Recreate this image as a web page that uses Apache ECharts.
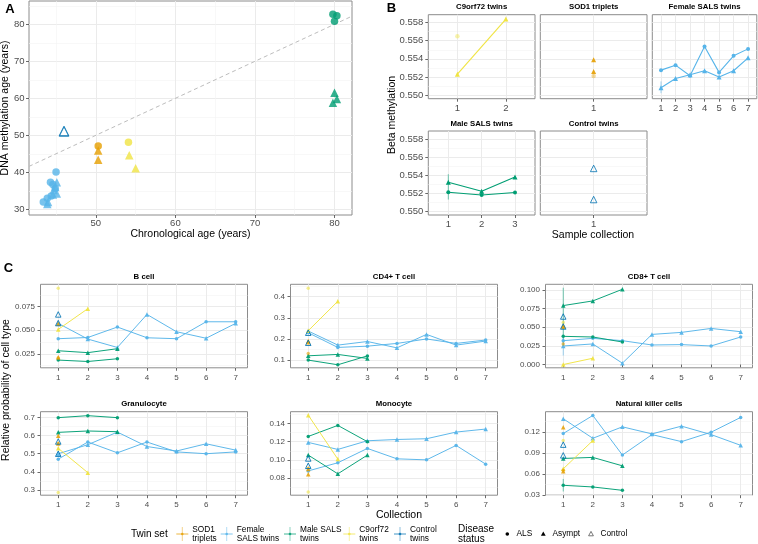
<!DOCTYPE html>
<html><head><meta charset="utf-8">
<script src="https://cdn.jsdelivr.net/npm/echarts@6/dist/echarts.min.js"></script>
<style>html,body{margin:0;padding:0;background:#fff}#c{width:758px;height:544px}</style>
</head><body><div id="c"></div>
<script>
// ================= DATA =================
// Panel A: [chronological age, DNA methylation age]
const A_femaleALS    = [[45.0,40.1],[44.3,37.3],[44.6,36.7],[44.9,35.6],[44.4,33.6],[43.9,33.0],[43.4,32.0]];
const A_femaleAsympt = [[45.1,37.3],[44.7,35.2],[45.1,34.3],[44.6,34.0],[44.0,32.0],[43.9,31.4],[44.9,36.0]];
const A_control      = [[46.0,51.2],[46.0,51.0]];
const A_sod1ALS      = [[50.3,47.1]];
const A_sod1Asympt   = [[50.3,45.9],[50.3,43.4]];
const A_c9ALS        = [[54.1,48.1]];
const A_c9Asympt     = [[54.2,44.6],[55.0,41.1]];
const A_maleALS      = [[79.8,82.7],[80.3,82.3],[80.0,80.8]];
const A_maleAsympt   = [[80.0,61.5],[80.3,59.8],[79.8,58.8]];
const A_identity     = [41.6, 82.2];
const A_xTicks = [50,60,70,80];
const A_yTicks = [30,40,50,60,70,80];

// Panel B: beta methylation by sample collection
const B_facets = ['C9orf72 twins','SOD1 triplets','Female SALS twins','Male SALS twins','Control twins'];
const B_yTicks = [0.550,0.552,0.554,0.556,0.558];
const B_c9ALS = [0.5565];
const B_c9Asympt = [0.5523,0.5584];
const B_sod1ALS = [0.5521];
const B_sod1Asympt = [0.5539,0.5526];
const B_femaleALS = [0.55275,0.5533,0.55213,0.55536,0.5525,0.55433,0.5551];
const B_femaleAsympt = [0.5508,0.55183,0.55224,0.55268,0.5520,0.55268,0.55411];
const B_maleALS = [0.55211,0.55181,0.55207];
const B_maleAsympt = [0.55322,0.55222,0.55378];
const B_control = [0.55474,0.5513];
// error bars: [facet, collection, low, high]
const B_errFemale = [[2,1,0.5502,0.5515]];
const B_errMale = [[3,1,0.5513,0.5541]];

// Panel C: relative probability of cell type (one row per cell type)
const C_cellTypes = ['B cell','CD4+ T cell','CD8+ T cell','Granulocyte','Monocyte','Natural killer cells'];
const C_collections = [1,2,3,4,5,6,7];
const C_yTicks = [[0.025,0.05,0.075],[0.1,0.2,0.3,0.4],[0,0.025,0.05,0.075,0.1],[0.3,0.4,0.5,0.6,0.7],[0.08,0.10,0.12,0.14],[0.03,0.06,0.09,0.12]];
const C_femaleA = [
  [0.0573,0.0406,0.0317,0.0668,0.0484,0.0415,0.0573],
  [0.2375,0.171,0.188,0.158,0.2216,0.171,0.19],
  [0.0249,0.0276,0.0018,0.0404,0.0431,0.0484,0.044],
  [0.50,0.55,0.62,0.54,0.515,0.555,0.52],
  [0.1192,0.1115,0.121,0.1224,0.1232,0.1305,0.1338],
  [0.1393,0.1113,0.1277,0.1176,0.1287,0.1166,0.1012]];
const C_femaleB = [
  [0.041,0.0423,0.0534,0.042,0.041,0.059,0.059],
  [0.2295,0.16,0.166,0.179,0.2,0.179,0.195],
  [0.032,0.0351,0.032,0.0262,0.0267,0.0249,0.0369],
  [0.47,0.565,0.505,0.565,0.51,0.50,0.51],
  [0.088,0.0969,0.1126,0.1012,0.1001,0.1159,0.0954],
  [0.1181,0.144,0.0873,0.1166,0.1065,0.12,0.1412]];
const C_maleAsympt = [[0.0282,0.0262,0.0304],[0.1205,0.1269,0.108],[0.0791,0.0853,0.1009],[0.6185,0.626,0.622],[0.1053,0.0848,0.1053],[0.0824,0.0839,0.0718]];
const C_maleALS    = [[0.0183,0.0168,0.0197],[0.10,0.078,0.12],[0.0378,0.0369,0.0302],[0.70,0.711,0.70],[0.1257,0.1378,0.120],[0.0439,0.0415,0.0367]];
const C_c9Asympt   = [[0.0509,0.0729],[0.239,0.378],[0.0,0.0084],[0.53,0.395],[0.149,0.1009],[0.0675,0.108]];
const C_c9ALS      = [[0.0945],[0.4397],[0.0564],[0.285],[0.065],[0.108]];
const C_sod1Asympt = [[0.0214,0.057],[0.19,0.184],[0.0507,0.052],[0.60,0.556],[0.0844,0.09],[0.1272,0.0641]];
const C_sod1ALS    = [[0.0205],[0.1316],[0.0275],[0.556],[0.091],[0.0655]];
const C_control    = [[0.0668,0.0576],[0.2295,0.182],[0.0644,0.051],[0.568,0.50],[0.1016,0.0936],[0.1022,0.0868]];
// error bars: [cell type, collection, low, high]
const C_errMale   = [[2,1,0.024,0.103],[5,1,0.035,0.053]];
const C_errFemale = [[2,1,0.012,0.040]];

// Legend
const twinSetLabels = ['SOD1\ntriplets','Female\nSALS twins','Male SALS\ntwins','C9orf72\ntwins','Control\ntwins'];
const statusLabels = ['ALS','Asympt','Control'];

// ================= STYLE / LAYOUT =================
const COL = {sod1:'#E69F00', female:'#56B4E9', male:'#009E73', c9:'#F0E442', control:'#0072B2'};
const FONT = '"Liberation Sans", Arial, Helvetica, sans-serif';
const option = {animation:false, backgroundColor:'#ffffff', grid:[], xAxis:[], yAxis:[], series:[], graphic:[]};

function panel(rect, xr, yr, xt, yt, xm, ym, fs, xfmt, yfmt, showY, xMargin, yMargin) {
  const gi = option.grid.length;
  option.grid.push({left:rect[0], top:rect[1], width:rect[2], height:rect[3], show:true,
    borderColor:'#8c8c8c', borderWidth:1, backgroundColor:'rgba(0,0,0,0)'});
  const minorLine = {color:'#F4F4F4', width:0.6};
  option.xAxis.push({type:'value', gridIndex:gi, min:xr[0], max:xr[1], position:'top',
    axisLine:{show:false}, axisLabel:{show:false}, axisTick:{show:false, customValues:xm},
    splitLine:{show:xm.length>0, lineStyle:minorLine}});
  option.yAxis.push({type:'value', gridIndex:gi, min:yr[0], max:yr[1], position:'right',
    axisLine:{show:false}, axisLabel:{show:false}, axisTick:{show:false, customValues:ym},
    splitLine:{show:ym.length>0, lineStyle:minorLine}});
  const xi = option.xAxis.length, yi = option.yAxis.length;
  option.xAxis.push({type:'value', gridIndex:gi, min:xr[0], max:xr[1], position:'bottom',
    axisLine:{show:false},
    axisTick:{show:true, customValues:xt, length:3, lineStyle:{color:'#444', width:0.8}},
    axisLabel:{show:true, customValues:xt, formatter:xfmt, fontSize:fs, color:'#4D4D4D', fontFamily:FONT, margin:xMargin},
    splitLine:{show:true, lineStyle:{color:'#EBEBEB', width:1}}});
  option.yAxis.push({type:'value', gridIndex:gi, min:yr[0], max:yr[1], position:'left',
    axisLine:{show:false},
    axisTick:{show:showY, customValues:yt, length:3, lineStyle:{color:'#444', width:0.8}},
    axisLabel:{show:showY, customValues:yt, formatter:yfmt, fontSize:fs, color:'#4D4D4D', fontFamily:FONT, margin:yMargin},
    splitLine:{show:true, lineStyle:{color:'#EBEBEB', width:1}}});
  return {x:xi, y:yi};
}
function scatter(ax, data, color, symbol, size, opacity) {
  const open = symbol === 'openTriangle';
  option.series.push({type:'scatter', xAxisIndex:ax.x, yAxisIndex:ax.y, data, symbol: open ? 'triangle' : symbol, symbolSize:size, silent:true, z:4,
    itemStyle: open ? {color:'rgba(255,255,255,0)', borderColor:color, borderWidth:1, opacity:opacity} : {color:color, opacity:opacity, borderWidth:0}});
}
function line(ax, xs, ys, color, symbol, size, lw, opacity) {
  option.series.push({type:'line', xAxisIndex:ax.x, yAxisIndex:ax.y, data: ys.map((v,i)=>[xs[i], v]),
    symbol, symbolSize:size, showSymbol:true, silent:true, z:3,
    lineStyle:{color, width:lw, opacity:opacity}, itemStyle:{color, opacity:opacity, borderWidth:0}});
}
function errbar(ax, x, lo, hi, color) {
  option.series.push({type:'line', xAxisIndex:ax.x, yAxisIndex:ax.y, data:[[x,lo],[x,hi]], symbol:'none', silent:true, z:2,
    lineStyle:{color, width:0.8, opacity:0.7}});
}
function txt(x, y, text, size, o) {
  o = o || {};
  option.graphic.push({type:'text', x, y, rotation:o.rot||0, silent:true, z:100,
    style:{text, x:0, y:0, fill:o.color||'#000', font:(o.bold?'bold ':'')+size+'px '+FONT,
      textAlign:o.align||'center', textVerticalAlign:'middle', align:o.align||'center', verticalAlign:'middle', lineHeight:o.lh||size*1.1}});
}

// ================= PANEL A =================
const axA = panel([29,1,323,214],[41.6,82.2],[28.46,86.3],A_xTicks,A_yTicks,[45,55,65,75],[35,45,55,65,75,85],9.5,
  v=>String(v), v=>String(v), true, 3.5, 4.5);
option.series.push({type:'line', xAxisIndex:axA.x, yAxisIndex:axA.y, data:[[A_identity[0],A_identity[0]],[A_identity[1],A_identity[1]]],
  symbol:'none', silent:true, z:2, lineStyle:{color:'#BDBDBD', width:1, type:[4,3]}});
scatter(axA, A_femaleALS, COL.female, 'circle', 7.5, 0.8);
scatter(axA, A_femaleAsympt, COL.female, 'triangle', 8.5, 0.8);
scatter(axA, A_control, COL.control, 'openTriangle', 9.5, 0.75);
scatter(axA, A_sod1ALS, COL.sod1, 'circle', 7.5, 0.8);
scatter(axA, A_sod1Asympt, COL.sod1, 'triangle', 8.5, 0.8);
scatter(axA, A_c9ALS, COL.c9, 'circle', 7.5, 0.8);
scatter(axA, A_c9Asympt, COL.c9, 'triangle', 8.5, 0.8);
scatter(axA, A_maleALS, COL.male, 'circle', 7.5, 0.8);
scatter(axA, A_maleAsympt, COL.male, 'triangle', 8.5, 0.8);
txt(10, 9, 'A', 13, {bold:true});
txt(190.5, 234.5, 'Chronological age (years)', 10.5);
txt(5.5, 108, 'DNA methylation age (years)', 10.5, {rot:Math.PI/2});

// ================= PANEL B =================
const B_yRange = [0.54959, 0.55888];
const B_yMinor = [0.551,0.553,0.555,0.557];
const B_rects = [[428.3,14.7,106.7,84],[540.3,14.7,106.7,84],[652.3,14.7,104.5,84],[428.3,131,106.7,84],[540.3,131,106.7,84]];
const B_xRanges = [[0.4,2.6],[0.4,1.6],[0.4,7.6],[0.4,3.6],[0.4,1.6]];
const B_nColl = [2,1,7,3,1];
const B_showY = [true,false,false,true,false];
const axB = B_facets.map((f,i)=>{
  const xt = C_collections.slice(0, B_nColl[i]);
  const ax = panel(B_rects[i], B_xRanges[i], B_yRange, xt, B_yTicks, [], B_yMinor, 9.5,
    v=>String(v), v=>v.toFixed(3), B_showY[i], 4.5, 5);
  txt(B_rects[i][0]+B_rects[i][2]/2, B_rects[i][1]-7.5, f, 7.8, {bold:true});
  return ax;
});
// C9orf72
scatter(axB[0], B_c9ALS.map(v=>[1,v]), COL.c9, 'circle', 4.5, 0.45);
line(axB[0], C_collections, B_c9Asympt, COL.c9, 'triangle', 5, 1.1, 1);
// SOD1
scatter(axB[1], B_sod1ALS.map(v=>[1,v]), COL.sod1, 'circle', 4.5, 0.4);
scatter(axB[1], B_sod1Asympt.map(v=>[1,v]), COL.sod1, 'triangle', 5, 0.9);
// Female SALS
B_errFemale.forEach(e=>errbar(axB[e[0]], e[1], e[2], e[3], COL.female));
line(axB[2], C_collections, B_femaleALS, COL.female, 'circle', 4, 1.1, 1);
line(axB[2], C_collections, B_femaleAsympt, COL.female, 'triangle', 5, 1.1, 1);
// Male SALS
B_errMale.forEach(e=>errbar(axB[e[0]], e[1], e[2], e[3], COL.male));
line(axB[3], C_collections, B_maleALS, COL.male, 'circle', 4, 1.1, 1);
line(axB[3], C_collections, B_maleAsympt, COL.male, 'triangle', 5, 1.1, 1);
// Control
scatter(axB[4], B_control.map(v=>[1,v]), COL.control, 'openTriangle', 6.5, 0.8);
txt(391.5, 8.5, 'B', 13, {bold:true});
txt(392, 115, 'Beta methylation', 10.5, {rot:Math.PI/2});
txt(593, 235, 'Sample collection', 10.5);

// ================= PANEL C =================
const C_yRanges = [[0.0101,0.0988],[0.0637,0.4584],[-0.0044,0.1076],[0.270,0.733],[0.0614,0.1528],[0.0297,0.1494]];
const C_dec = [3,1,3,1,2,2];
const C_lefts = [40.5,290.5,545.5];
const C_tops = [284.3,411.7];
const axC = C_cellTypes.map((ct,i)=>{
  const r = [C_lefts[i%3], C_tops[Math.floor(i/3)], 207, 83.5];
  const t = C_yTicks[i];
  const step = t[1]-t[0];
  const ym = [];
  for (let k=-1;k<t.length;k++){ const m = t[0]+step*(k+0.5); if (m>C_yRanges[i][0] && m<C_yRanges[i][1]) ym.push(m); }
  const ax = panel(r, [0.4,7.4], C_yRanges[i], C_collections, t, [], ym, 8,
    v=>String(v), v=>v.toFixed(C_dec[i]), true, 5.5, 5.5);
  txt(r[0]+r[2]/2, r[1]-7.5, ct, 7.8, {bold:true});
  return ax;
});
C_cellTypes.forEach((ct,i)=>{
  const ax = axC[i];
  C_errMale.filter(e=>e[0]===i).forEach(e=>errbar(ax, e[1], e[2], e[3], COL.male));
  C_errFemale.filter(e=>e[0]===i).forEach(e=>errbar(ax, e[1], e[2], e[3], COL.female));
  line(ax, C_collections, C_femaleA[i], COL.female, 'triangle', 4.5, 1, 0.95);
  line(ax, C_collections, C_femaleB[i], COL.female, 'circle', 3.5, 1, 0.95);
  line(ax, C_collections, C_maleAsympt[i], COL.male, 'triangle', 4.5, 1, 0.95);
  line(ax, C_collections, C_maleALS[i], COL.male, 'circle', 3.5, 1, 0.95);
  line(ax, C_collections, C_c9Asympt[i], COL.c9, 'triangle', 4.5, 1, 0.95);
  scatter(ax, C_c9ALS[i].map(v=>[1,v]), COL.c9, 'circle', 3.5, 0.6);
  scatter(ax, C_sod1Asympt[i].map(v=>[1,v]), COL.sod1, 'triangle', 4.5, 0.85);
  scatter(ax, C_sod1ALS[i].map(v=>[1,v]), COL.sod1, 'circle', 3.5, 0.6);
  scatter(ax, C_control[i].map(v=>[1,v]), COL.control, 'openTriangle', 5.5, 0.85);
});
txt(8.5, 268.5, 'C', 13, {bold:true});
txt(6, 390, 'Relative probability of cell type', 10.5, {rot:Math.PI/2});
txt(399, 515.5, 'Collection', 10.5);

// ================= LEGEND =================
const LY = 534;
txt(131, LY, 'Twin set', 10, {align:'left'});
const keyX = [182.3, 226.7, 290, 349.3, 400];
const twinCols = [COL.sod1, COL.female, COL.male, COL.c9, COL.control];
twinSetLabels.forEach((lab,i)=>{
  option.graphic.push({type:'line', silent:true, shape:{x1:keyX[i]-6,y1:LY,x2:keyX[i]+6,y2:LY}, style:{stroke:twinCols[i], lineWidth:1, opacity:0.75}});
  option.graphic.push({type:'line', silent:true, shape:{x1:keyX[i],y1:LY-7,x2:keyX[i],y2:LY+7}, style:{stroke:twinCols[i], lineWidth:1, opacity:0.45}});
  option.graphic.push({type:'circle', silent:true, shape:{cx:keyX[i],cy:LY,r:1.3}, style:{fill:twinCols[i], opacity:0.8}});
  txt(keyX[i]+10, LY, lab, 8.3, {align:'left', lh:9});
});
txt(458, LY, 'Disease\nstatus', 10, {align:'left', lh:10.5});
option.graphic.push({type:'circle', silent:true, shape:{cx:507.3,cy:LY,r:1.8}, style:{fill:'#000'}});
txt(516.5, LY, statusLabels[0], 8.3, {align:'left'});
option.graphic.push({type:'polygon', silent:true, shape:{points:[[543.3,LY-2.6],[545.7,LY+1.8],[540.9,LY+1.8]]}, style:{fill:'#000'}});
txt(552.5, LY, statusLabels[1], 8.3, {align:'left'});
option.graphic.push({type:'polygon', silent:true, shape:{points:[[591,LY-2.6],[593.4,LY+1.8],[588.6,LY+1.8]]}, style:{fill:'none', stroke:'#555', lineWidth:0.8}});
txt(600.5, LY, statusLabels[2], 8.3, {align:'left'});

const chart = echarts.init(document.getElementById('c'), null, {renderer:'canvas'});
chart.setOption(option);
</script></body></html>
